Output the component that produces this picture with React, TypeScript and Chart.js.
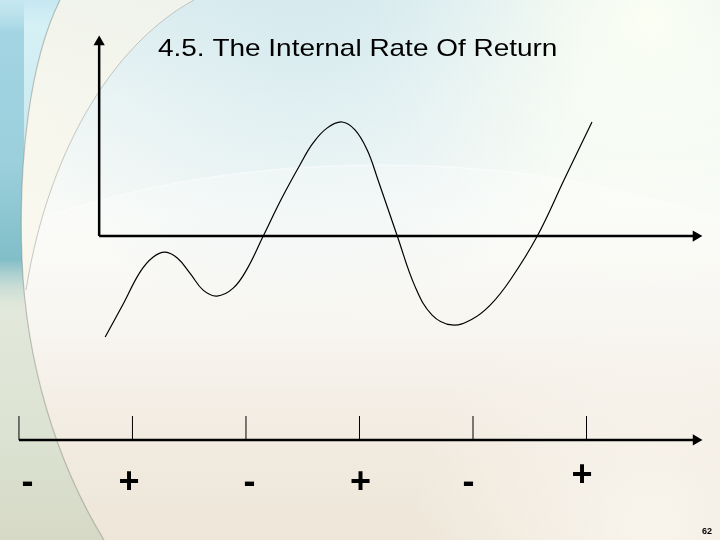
import React, { useEffect, useRef } from "react";
import { Chart, registerables } from "chart.js";

Chart.register(...registerables);

// ---- Data ----
const TITLE = "4.5. The Internal Rate Of Return";
const PAGE_NUMBER = "62";

// NPV profile: discount rate (x) vs net present value (y)
const rates = [0.1, 0.4, 0.68, 0.9, 1.1, 1.3, 1.51, 1.73, 1.96, 2.23, 2.46, 2.73, 3.04, 3.34, 3.56, 3.79, 4.04, 4.26, 4.46, 4.64, 4.96, 5.26, 5.54, 5.87, 6.21, 6.51, 6.84, 7.29, 7.75, 8.2];
const npv = [-5.1, -3.43, -1.82, -1.06, -0.81, -1.11, -1.87, -2.73, -3.03, -2.63, -1.67, 0, 1.92, 3.59, 4.7, 5.45, 5.76, 5.35, 4.34, 2.83, 0, -2.58, -3.99, -4.49, -4.19, -3.48, -2.22, 0, 2.93, 5.76];

// axes of the NPV plot
const rateAxisEnd = 9.93;
const npvAxisEnd = 9.8;

// cash-flow timeline
const periods = [0, 1, 2, 3, 4, 5];
const timelineEnd = 5.965;
const tickHeight = 1.04;
const cashSigns = ["-", "+", "-", "+", "-", "+"];
const signPos = [0.075, 0.97, 2.03, 3.01, 3.96, 4.96];
const signLevel = [-2.3, -2.3, -2.3, -2.3, -2.3, -2.0];

const bgPlugin = {
  id: "slideBg",
  beforeDraw(chart: any) {
    const { ctx, width: W, height: H } = chart;
    ctx.save();
    let g = ctx.createLinearGradient(0, 0, 0, H);
    g.addColorStop(0, "#dfeef1");
    g.addColorStop(0.18, "#eef6f5");
    g.addColorStop(0.4, "#f8faf7");
    g.addColorStop(0.6, "#f6f3ec");
    g.addColorStop(0.85, "#f0e9de");
    g.addColorStop(1, "#eee6d9");
    ctx.fillStyle = g;
    ctx.fillRect(0, 0, W, H);

    // top right pale glow
    let r = ctx.createRadialGradient(650, 20, 0, 650, 20, 280);
    r.addColorStop(0, "rgba(252,255,243,0.95)");
    r.addColorStop(1, "rgba(252,255,243,0)");
    ctx.fillStyle = r;
    ctx.fillRect(0, 0, W, H);

    // top blue haze
    r = ctx.createRadialGradient(300, 50, 0, 300, 50, 280);
    r.addColorStop(0, "rgba(200,228,235,0.45)");
    r.addColorStop(1, "rgba(200,228,235,0)");
    ctx.fillStyle = r;
    ctx.fillRect(0, 0, W, H);

    // white band ellipse
    ctx.beginPath();
    ctx.ellipse(380, 430, 560, 265, 0, 0, Math.PI * 2);
    ctx.fillStyle = "rgba(255,255,255,0.25)";
    ctx.fill();
    ctx.strokeStyle = "rgba(255,255,255,0.45)";
    ctx.lineWidth = 1.5;
    ctx.stroke();

    // bottom beige
    g = ctx.createLinearGradient(0, 330, 0, H);
    g.addColorStop(0, "rgba(238,229,214,0)");
    g.addColorStop(1, "rgba(236,227,212,0.7)");
    ctx.fillStyle = g;
    ctx.fillRect(0, 330, W, H - 330);

    // bottom right light
    r = ctx.createRadialGradient(650, 530, 0, 650, 530, 240);
    r.addColorStop(0, "rgba(250,247,240,0.85)");
    r.addColorStop(1, "rgba(250,247,240,0)");
    ctx.fillStyle = r;
    ctx.fillRect(0, 0, W, H);

    // cream region between arcs (top-left)
    ctx.beginPath();
    ctx.moveTo(60, 0);
    ctx.lineTo(194, 0);
    ctx.bezierCurveTo(120, 40, 50, 140, 26, 290);
    ctx.lineTo(22, 260);
    ctx.bezierCurveTo(18, 160, 30, 60, 60, 0);
    ctx.closePath();
    ctx.fillStyle = "rgba(250,247,234,0.7)";
    ctx.fill();

    // left outer region (light)
    const outer = () => {
      ctx.beginPath();
      ctx.moveTo(0, 0);
      ctx.lineTo(60, 0);
      ctx.bezierCurveTo(30, 60, 18, 160, 22, 260);
      ctx.bezierCurveTo(26, 360, 55, 460, 104, 540);
      ctx.lineTo(0, 540);
      ctx.closePath();
    };
    outer();
    g = ctx.createLinearGradient(0, 0, 0, H);
    g.addColorStop(0, "#c6e7f1");
    g.addColorStop(0.05, "#d6f1f6");
    g.addColorStop(0.3, "#c9e8ee");
    g.addColorStop(0.5, "#c9e2df");
    g.addColorStop(0.56, "#e2e9dc");
    g.addColorStop(0.8, "#dce3d2");
    g.addColorStop(1, "#d6d9c6");
    ctx.fillStyle = g;
    ctx.fill();

    // teal strip on far left
    ctx.save();
    outer();
    ctx.clip();
    g = ctx.createLinearGradient(0, 0, 0, H);
    g.addColorStop(0, "rgba(150,205,222,0)");
    g.addColorStop(0.06, "rgba(150,205,222,0.8)");
    g.addColorStop(0.3, "rgba(150,205,218,0.9)");
    g.addColorStop(0.48, "rgba(128,190,200,1)");
    g.addColorStop(0.53, "rgba(170,200,195,0.3)");
    g.addColorStop(0.58, "rgba(200,215,200,0)");
    g.addColorStop(1, "rgba(200,215,200,0)");
    ctx.fillStyle = g;
    ctx.fillRect(0, 0, 24, H);
    ctx.restore();

    // edge of left region
    ctx.beginPath();
    ctx.moveTo(60, 0);
    ctx.bezierCurveTo(30, 60, 18, 160, 22, 260);
    ctx.bezierCurveTo(26, 360, 55, 460, 104, 540);
    ctx.strokeStyle = "rgba(140,140,130,0.5)";
    ctx.lineWidth = 1.2;
    ctx.stroke();

    // inner faint arc
    ctx.beginPath();
    ctx.moveTo(194, 0);
    ctx.bezierCurveTo(120, 40, 50, 140, 26, 290);
    ctx.strokeStyle = "rgba(165,165,160,0.6)";
    ctx.lineWidth = 1;
    ctx.stroke();

    ctx.restore();
  },
};

const textPlugin = {
  id: "slideText",
  afterDraw(chart: any) {
    const { ctx } = chart;
    const sx = chart.scales.x2;
    const sy = chart.scales.y2;
    ctx.save();
    ctx.fillStyle = "#000";
    ctx.textBaseline = "alphabetic";
    ctx.font = '24px "Liberation Sans", Arial, sans-serif';
    ctx.translate(158, 55.5);
    ctx.scale(1.165, 1);
    ctx.fillText(TITLE, 0, 0);
    ctx.restore();

    ctx.save();
    ctx.fillStyle = "#000";
    ctx.textAlign = "center";
    ctx.textBaseline = "alphabetic";
    ctx.font = 'bold 36px "Liberation Sans", Arial, sans-serif';
    cashSigns.forEach((s, i) => {
      ctx.fillText(s, sx.getPixelForValue(signPos[i]), sy.getPixelForValue(signLevel[i]));
    });
    ctx.font = 'bold 9px "Liberation Sans", Arial, sans-serif';
    ctx.fillText(PAGE_NUMBER, 707, 534);
    ctx.restore();
  },
};

export default function App() {
  const ref = useRef<HTMLCanvasElement>(null);
  useEffect(() => {
    document.body.style.margin = "0";
    const curve = rates.map((x, i) => ({ x, y: npv[i] }));
    const tickData: any[] = [];
    periods.forEach((p) => {
      tickData.push({ x: p, y: 0 }, { x: p, y: tickHeight }, { x: p + 0.5, y: null });
    });
    const chart = new Chart(ref.current as HTMLCanvasElement, {
      type: "line",
      data: {
        datasets: [
          {
            data: curve,
            xAxisID: "x",
            yAxisID: "y",
            borderColor: "#000",
            borderWidth: 1.2,
            pointRadius: 0,
            tension: 0.4,
            fill: false,
          },
          {
            data: [{ x: 0, y: 0 }, { x: 0, y: npvAxisEnd }],
            xAxisID: "x",
            yAxisID: "y",
            borderColor: "#000",
            borderWidth: 2.5,
            pointStyle: "triangle",
            pointRadius: [0, 4],
            pointRotation: [0, 0],
            pointBackgroundColor: "#000",
            pointBorderColor: "#000",
            tension: 0,
          },
          {
            data: [{ x: 0, y: 0 }, { x: rateAxisEnd, y: 0 }],
            xAxisID: "x",
            yAxisID: "y",
            borderColor: "#000",
            borderWidth: 2.5,
            pointStyle: "triangle",
            pointRadius: [0, 4],
            pointRotation: [0, 90],
            pointBackgroundColor: "#000",
            pointBorderColor: "#000",
            tension: 0,
          },
          {
            data: [{ x: periods[0], y: 0 }, { x: timelineEnd, y: 0 }],
            xAxisID: "x2",
            yAxisID: "y2",
            borderColor: "#000",
            borderWidth: 2.5,
            pointStyle: "triangle",
            pointRadius: [0, 4],
            pointRotation: [0, 90],
            pointBackgroundColor: "#000",
            pointBorderColor: "#000",
            tension: 0,
          },
          {
            data: tickData,
            xAxisID: "x2",
            yAxisID: "y2",
            borderColor: "#000",
            borderWidth: 1,
            pointRadius: 0,
            spanGaps: false,
            tension: 0,
          },
        ],
      } as any,
      options: {
        animation: false,
        responsive: false,
        maintainAspectRatio: false,
        events: [],
        layout: { padding: 0, autoPadding: false },
        plugins: { legend: { display: false }, title: { display: false }, tooltip: { enabled: false } },
        scales: {
          x: { type: "linear", axis: "x", min: -1.65, max: 10.33, display: false },
          y: { type: "linear", axis: "y", min: -15.35, max: 11.92, display: false },
          x2: { type: "linear", axis: "x", min: -0.167, max: 6.176, display: false },
          y2: { type: "linear", axis: "y", min: -4.35, max: 19.13, display: false },
        },
      } as any,
      plugins: [bgPlugin, textPlugin],
    });
    return () => chart.destroy();
  }, []);
  return (
    <div style={{ position: "absolute", left: 0, top: 0, width: 720, height: 540 }}>
      <canvas ref={ref} width={720} height={540} style={{ display: "block", width: 720, height: 540 }} />
    </div>
  );
}
